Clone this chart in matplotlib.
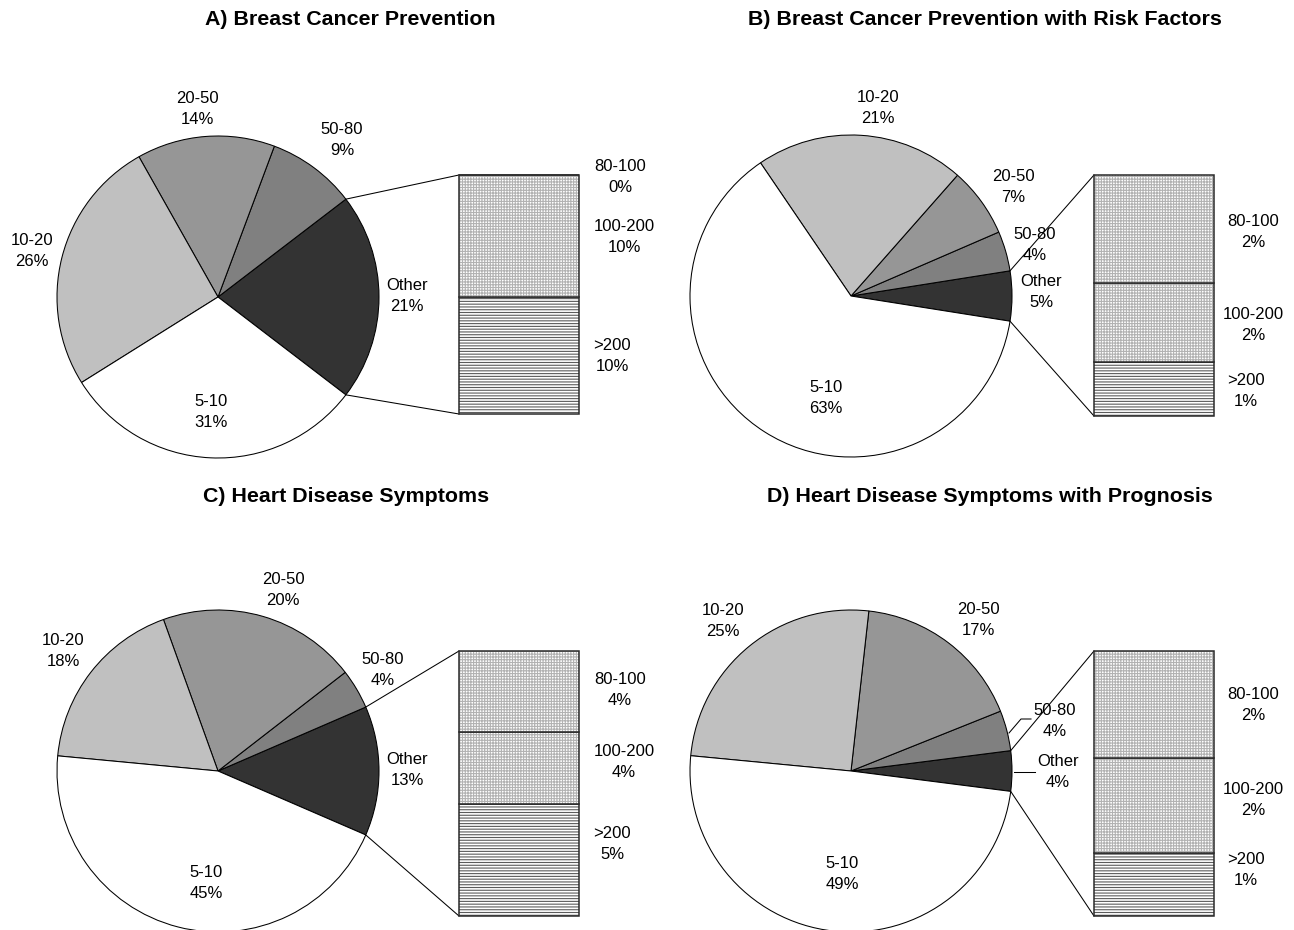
import numpy as np
import matplotlib.pyplot as plt

plt.rcParams['font.family'] = ['Liberation Sans', 'DejaVu Sans']
plt.rcParams['hatch.linewidth'] = 0.8

W, H = 1294, 930

# pie categories, in reading order; "Other" is broken out into the bar
slice_labels = ["5-10", "10-20", "20-50", "50-80", "Other"]
slice_colors = ["#ffffff", "#c0c0c0", "#969696", "#808080", "#333333"]
split_labels = ["80-100", "100-200", ">200"]

titles = [
    "A) Breast Cancer Prevention",
    "B) Breast Cancer Prevention with Risk Factors",
    "C) Heart Disease Symptoms",
    "D) Heart Disease Symptoms with Prognosis",
]

pie_a = [31, 26, 14, 9, 21]
pie_b = [63, 21, 7, 4, 5]
pie_c = [45, 18, 20, 4, 13]
pie_d = [49, 25, 17, 4, 4]

split_a = [0.0, 10.2, 9.8]
split_b = [2.2, 1.6, 1.1]
split_c = [3.9, 3.5, 5.4]
split_d = [1.7, 1.5, 1.0]

# layout in pixels from the top-left corner
layouts = [
    dict(title=(350, 20), center=(218, 297), radius=161, bar=(459, 175, 239),
         pie_text=[(211, 412), (32, 251), (197, 109), (342, 140), (407, 296)],
         split_text=[(620, 177), (624, 237), (612, 356)]),
    dict(title=(985, 20), center=(851, 296), radius=161, bar=(1094, 175, 241),
         pie_text=[(826, 398), (878, 108), (1013, 187), (1035, 245), (1041, 292)],
         split_text=[(1253, 232), (1253, 325), (1246, 391)]),
    dict(title=(346, 497), center=(218, 771), radius=161, bar=(459, 651, 265),
         pie_text=[(206, 883), (63, 651), (283, 590), (383, 670), (407, 770)],
         split_text=[(620, 690), (624, 762), (612, 844)]),
    dict(title=(990, 497), center=(851, 771), radius=161, bar=(1094, 651, 265),
         pie_text=[(842, 874), (723, 621), (978, 620), (1055, 721), (1058, 772)],
         split_text=[(1253, 705), (1253, 800), (1246, 870)],
         leaders=[[(1009, 733), (1021, 719), (1031, 719)],
                  [(1014, 772), (1035, 772)]]),
]

hatches = ["++++++", "++++++", "------"]
hatch_colors = ["#b2b2b2", "#b2b2b2", "#5c5c5c"]


def Y(y):
    return H - y


fig = plt.figure(figsize=(W / 100, H / 100), dpi=100)
ax = fig.add_axes([0, 0, 1, 1])


def draw_panel(title, pie_vals, split_vals, lay):
    cx, cy = lay["center"]
    r = lay["radius"]
    # Other sits centred on the right, the rest go round anticlockwise
    half = pie_vals[-1] / sum(pie_vals) * 180
    ax.pie(pie_vals[::-1], colors=slice_colors[::-1], startangle=-half,
           center=(cx, Y(cy)), radius=r, frame=True,
           wedgeprops=dict(edgecolor="black", linewidth=0.75))

    bx, btop, bh = lay["bar"]
    bw = 120
    # connector lines from the Other wedge to the bar corners
    for sign, by in [(1, btop), (-1, btop + bh)]:
        a = np.deg2rad(sign * half)
        ax.plot([cx + r * np.cos(a), bx], [Y(cy) + r * np.sin(a), Y(by)],
                color="black", lw=0.75)

    bax = fig.add_axes([bx / W, Y(btop + bh) / H, bw / W, bh / H])
    bottom = 0
    for v, hatch, hc in zip(split_vals[::-1], hatches[::-1], hatch_colors[::-1]):
        bax.bar(0, v, bottom=bottom, width=1, color="white", edgecolor=hc,
                hatch=hatch, linewidth=0)
        bax.bar(0, v, bottom=bottom, width=1, fill=False, edgecolor="#2a2a2a",
                linewidth=1.1, clip_on=False)
        bottom += v
    bax.set_xlim(-0.5, 0.5)
    bax.set_ylim(0, sum(split_vals))
    bax.axis("off")

    for lab, v, (tx, ty) in zip(slice_labels, pie_vals, lay["pie_text"]):
        ax.text(tx, Y(ty), f"{lab}\n{v}%", ha="center", va="center",
                fontsize=12, linespacing=1.5)
    for lab, v, (tx, ty) in zip(split_labels, split_vals, lay["split_text"]):
        ax.text(tx, Y(ty), f"{lab}\n{round(v)}%", ha="center", va="center",
                fontsize=12, linespacing=1.5)
    for pts in lay.get("leaders", []):
        xs, ys = zip(*pts)
        ax.plot(xs, [Y(y) for y in ys], color="black", lw=0.75)

    ax.text(lay["title"][0], Y(lay["title"][1]), title, ha="center",
            va="center", fontsize=15.4, fontweight="bold")


for title, pv, sv, lay in zip(titles, [pie_a, pie_b, pie_c, pie_d],
                              [split_a, split_b, split_c, split_d], layouts):
    draw_panel(title, pv, sv, lay)

ax.set_xlim(0, W)
ax.set_ylim(0, H)
ax.axis("off")

fig.savefig("out.png", dpi=100)
